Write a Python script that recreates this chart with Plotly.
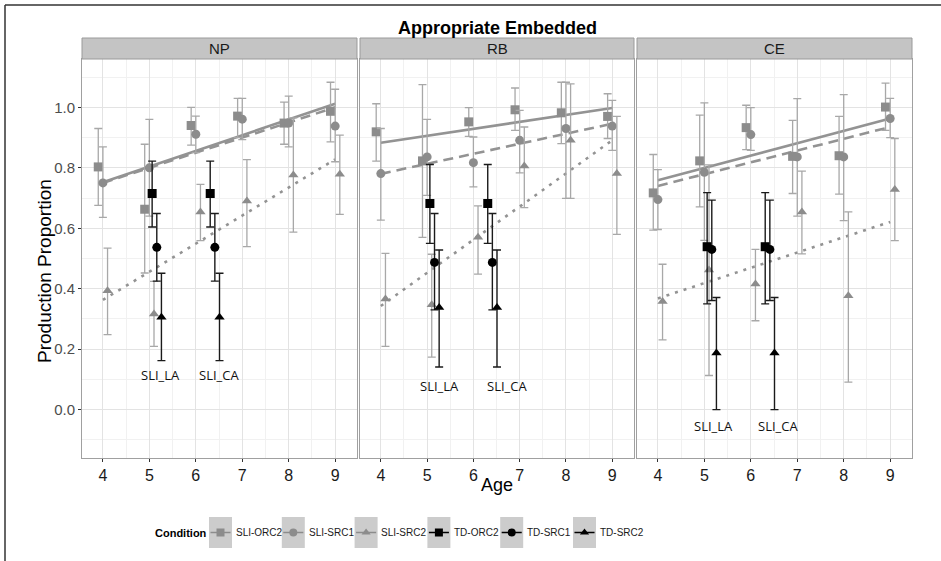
import plotly.graph_objects as go

# ---------------- data ----------------
ages = [4, 5, 6, 7, 8, 9]
td_ages = [5.16, 6.41]
fit_ages = [4, 9]
panels = ["NP", "RB", "CE"]
conditions = ["SLI-ORC2", "SLI-SRC1", "SLI-SRC2", "TD-ORC2", "TD-SRC1", "TD-SRC2"]
group_labels = ["SLI_LA", "SLI_CA"]

# NP panel
NP_SLI_ORC2 = [0.803, 0.663, 0.940, 0.971, 0.948, 0.987]
NP_SLI_ORC2_LO = [0.676, 0.452, 0.875, 0.900, 0.878, 0.886]
NP_SLI_ORC2_HI = [0.930, 0.878, 1.000, 1.030, 1.017, 1.083]
NP_SLI_SRC1 = [0.750, 0.800, 0.911, 0.961, 0.948, 0.938]
NP_SLI_SRC1_LO = [0.636, 0.640, 0.850, 0.893, 0.869, 0.820]
NP_SLI_SRC1_HI = [0.869, 0.960, 0.971, 1.030, 1.037, 1.060]
NP_SLI_SRC2 = [0.393, 0.316, 0.654, 0.690, 0.776, 0.779]
NP_SLI_SRC2_LO = [0.248, 0.209, 0.559, 0.539, 0.587, 0.646]
NP_SLI_SRC2_HI = [0.534, 0.424, 0.745, 0.827, 0.965, 0.908]
NP_TD_ORC2 = [0.715, 0.715]
NP_TD_ORC2_LO = [0.604, 0.604]
NP_TD_ORC2_HI = [0.822, 0.822]
NP_TD_SRC1 = [0.537, 0.537]
NP_TD_SRC1_LO = [0.425, 0.425]
NP_TD_SRC1_HI = [0.649, 0.649]
NP_TD_SRC2 = [0.306, 0.306]
NP_TD_SRC2_LO = [0.162, 0.162]
NP_TD_SRC2_HI = [0.451, 0.451]
NP_FIT_START = [0.752, 0.750, 0.363]
NP_FIT_END = [1.012, 1.000, 0.828]
NP_LABEL_X = [5.23, 6.50]
NP_LABEL_Y = [0.113, 0.113]

# RB panel
RB_SLI_ORC2 = [0.919, 0.823, 0.952, 0.992, 0.982, 0.970]
RB_SLI_ORC2_LO = [0.822, 0.570, 0.904, 0.924, 0.880, 0.897]
RB_SLI_ORC2_HI = [1.012, 1.075, 0.999, 1.064, 1.083, 1.045]
RB_SLI_SRC1 = [0.781, 0.836, 0.817, 0.891, 0.930, 0.938]
RB_SLI_SRC1_LO = [0.627, 0.709, 0.737, 0.783, 0.699, 0.858]
RB_SLI_SRC1_HI = [0.930, 0.960, 0.902, 0.990, 1.083, 1.023]
RB_SLI_SRC2 = [0.366, 0.347, 0.570, 0.806, 0.891, 0.781]
RB_SLI_SRC2_LO = [0.209, 0.174, 0.448, 0.668, 0.699, 0.580]
RB_SLI_SRC2_HI = [0.517, 0.514, 0.674, 0.935, 1.078, 0.970]
RB_TD_ORC2 = [0.682, 0.682]
RB_TD_ORC2_LO = [0.550, 0.550]
RB_TD_ORC2_HI = [0.811, 0.811]
RB_TD_SRC1 = [0.487, 0.487]
RB_TD_SRC1_LO = [0.330, 0.330]
RB_TD_SRC1_HI = [0.649, 0.649]
RB_TD_SRC2 = [0.338, 0.338]
RB_TD_SRC2_LO = [0.141, 0.141]
RB_TD_SRC2_HI = [0.528, 0.528]
RB_FIT_START = [0.883, 0.780, 0.343]
RB_FIT_END = [0.998, 0.946, 0.891]
RB_LABEL_X = [5.27, 6.72]
RB_LABEL_Y = [0.077, 0.077]

# CE panel
CE_SLI_ORC2 = [0.717, 0.823, 0.933, 0.838, 0.840, 1.001]
CE_SLI_ORC2_LO = [0.594, 0.671, 0.860, 0.715, 0.713, 0.924]
CE_SLI_ORC2_HI = [0.844, 0.974, 1.007, 0.957, 0.970, 1.080]
CE_SLI_SRC1 = [0.695, 0.785, 0.910, 0.836, 0.836, 0.963]
CE_SLI_SRC1_LO = [0.596, 0.560, 0.858, 0.640, 0.625, 0.900]
CE_SLI_SRC1_HI = [0.794, 1.015, 0.999, 1.029, 1.042, 1.030]
CE_SLI_SRC2 = [0.358, 0.462, 0.416, 0.654, 0.377, 0.728]
CE_SLI_SRC2_LO = [0.231, 0.113, 0.294, 0.515, 0.091, 0.559]
CE_SLI_SRC2_HI = [0.481, 0.810, 0.530, 0.789, 0.654, 0.897]
CE_TD_ORC2 = [0.539, 0.539]
CE_TD_ORC2_LO = [0.350, 0.350]
CE_TD_ORC2_HI = [0.718, 0.718]
CE_TD_SRC1 = [0.530, 0.530]
CE_TD_SRC1_LO = [0.361, 0.361]
CE_TD_SRC1_HI = [0.693, 0.693]
CE_TD_SRC2 = [0.187, 0.187]
CE_TD_SRC2_LO = [0.000, 0.000]
CE_TD_SRC2_HI = [0.371, 0.371]
CE_FIT_START = [0.759, 0.740, 0.368]
CE_FIT_END = [0.963, 0.935, 0.621]
CE_LABEL_X = [5.20, 6.58]
CE_LABEL_Y = [-0.055, -0.055]

y_ticks = [0.0, 0.2, 0.4, 0.6, 0.8, 1.0]

# ---------------- assembly ----------------
panel_data = {
    "NP": dict(
        sli=[(NP_SLI_ORC2, NP_SLI_ORC2_LO, NP_SLI_ORC2_HI),
             (NP_SLI_SRC1, NP_SLI_SRC1_LO, NP_SLI_SRC1_HI),
             (NP_SLI_SRC2, NP_SLI_SRC2_LO, NP_SLI_SRC2_HI)],
        td=[(NP_TD_ORC2, NP_TD_ORC2_LO, NP_TD_ORC2_HI),
            (NP_TD_SRC1, NP_TD_SRC1_LO, NP_TD_SRC1_HI),
            (NP_TD_SRC2, NP_TD_SRC2_LO, NP_TD_SRC2_HI)],
        fit=(NP_FIT_START, NP_FIT_END), lab=(NP_LABEL_X, NP_LABEL_Y)),
    "RB": dict(
        sli=[(RB_SLI_ORC2, RB_SLI_ORC2_LO, RB_SLI_ORC2_HI),
             (RB_SLI_SRC1, RB_SLI_SRC1_LO, RB_SLI_SRC1_HI),
             (RB_SLI_SRC2, RB_SLI_SRC2_LO, RB_SLI_SRC2_HI)],
        td=[(RB_TD_ORC2, RB_TD_ORC2_LO, RB_TD_ORC2_HI),
            (RB_TD_SRC1, RB_TD_SRC1_LO, RB_TD_SRC1_HI),
            (RB_TD_SRC2, RB_TD_SRC2_LO, RB_TD_SRC2_HI)],
        fit=(RB_FIT_START, RB_FIT_END), lab=(RB_LABEL_X, RB_LABEL_Y)),
    "CE": dict(
        sli=[(CE_SLI_ORC2, CE_SLI_ORC2_LO, CE_SLI_ORC2_HI),
             (CE_SLI_SRC1, CE_SLI_SRC1_LO, CE_SLI_SRC1_HI),
             (CE_SLI_SRC2, CE_SLI_SRC2_LO, CE_SLI_SRC2_HI)],
        td=[(CE_TD_ORC2, CE_TD_ORC2_LO, CE_TD_ORC2_HI),
            (CE_TD_SRC1, CE_TD_SRC1_LO, CE_TD_SRC1_HI),
            (CE_TD_SRC2, CE_TD_SRC2_LO, CE_TD_SRC2_HI)],
        fit=(CE_FIT_START, CE_FIT_END), lab=(CE_LABEL_X, CE_LABEL_Y)),
}

# ---------------- style ----------------
W, H = 941, 561
symbols = ["square", "circle", "triangle-up"]
dodge = [-0.1, 0.0, 0.1]
fit_dash = ["solid", "10px,6px", "3px,6px"]
SLI_COL = "#8c8c8c"
SLI_ERR = "#a8a8a8"
TD_COL = "#000000"
FIT_COL = "#939393"
FONT = "Liberation Sans, Arial, sans-serif"

px_x = [(82, 357), (360, 634), (637, 912)]
plot_top, plot_bot = 59, 458
strip_top = 38
y_dom = [(H - plot_bot) / H, (H - plot_top) / H]


def px(xp):
    return xp / W


def py(yp):
    return (H - yp) / H


fig = go.Figure()

for pi, pname in enumerate(panels):
    d = panel_data[pname]
    xa = "x" if pi == 0 else f"x{pi+1}"
    ya = "y" if pi == 0 else f"y{pi+1}"
    # regression lines
    for ci in range(3):
        fig.add_trace(go.Scatter(
            x=fit_ages, y=[d["fit"][0][ci], d["fit"][1][ci]], mode="lines",
            line=dict(color=FIT_COL, width=2.6, dash=fit_dash[ci]),
            xaxis=xa, yaxis=ya, showlegend=False, hoverinfo="skip"))
    # SLI points
    for ci, (m, lo, hi) in enumerate(d["sli"]):
        fig.add_trace(go.Scatter(
            x=[a + dodge[ci] for a in ages], y=m, mode="markers",
            marker=dict(symbol=symbols[ci], color=SLI_COL, size=9),
            error_y=dict(type="data", symmetric=False,
                         array=[h - v for h, v in zip(hi, m)],
                         arrayminus=[v - l for v, l in zip(m, lo)],
                         color=SLI_ERR, thickness=1.3, width=4),
            xaxis=xa, yaxis=ya, showlegend=False, name=conditions[ci]))
    # TD points
    for ci, (m, lo, hi) in enumerate(d["td"]):
        fig.add_trace(go.Scatter(
            x=[a + dodge[ci] for a in td_ages], y=m, mode="markers",
            marker=dict(symbol=symbols[ci], color=TD_COL, size=9),
            error_y=dict(type="data", symmetric=False,
                         array=[h - v for h, v in zip(hi, m)],
                         arrayminus=[v - l for v, l in zip(m, lo)],
                         color="#1a1a1a", thickness=1.4, width=4),
            xaxis=xa, yaxis=ya, showlegend=False, name=conditions[3 + ci]))
    # group labels
    for gi, g in enumerate(group_labels):
        fig.add_annotation(x=d["lab"][0][gi], y=d["lab"][1][gi], xref=xa, yref=ya,
                           text=g, showarrow=False, xanchor="center", yanchor="middle",
                           font=dict(family="Open Sans, sans-serif", size=13, color="#111"))

    # axes
    x0, x1 = px_x[pi]
    axkw = dict(domain=[px(x0), px(x1)], range=[3.55, 9.47], tickvals=ages,
                showgrid=True, gridcolor="#e3e3e3", gridwidth=1,
                minor=dict(dtick=0.5, tick0=3.5, showgrid=True, gridcolor="#f1f1f1", gridwidth=1),
                showline=True, linecolor="#a0a0a0", linewidth=1, mirror=True,
                ticks="outside", ticklen=3, tickcolor="#333",
                tickfont=dict(family=FONT, size=16, color="#1a1a1a"), zeroline=False,
                anchor=ya)
    yakw = dict(domain=y_dom, range=[-0.16, 1.16], tickvals=y_ticks,
                ticktext=[f"{v:.1f}" for v in y_ticks],
                showgrid=True, gridcolor="#e3e3e3", gridwidth=1,
                minor=dict(tickvals=[-0.1, 0.1, 0.3, 0.5, 0.7, 0.9, 1.1], showgrid=True,
                           gridcolor="#f1f1f1", gridwidth=1),
                showline=True, linecolor="#a0a0a0", linewidth=1, mirror=True,
                zeroline=False, anchor=xa,
                ticks="outside" if pi == 0 else "", ticklen=3, tickcolor="#333",
                showticklabels=(pi == 0),
                tickfont=dict(family=FONT, size=15, color="#4d4d4d"))
    if pi > 0:
        yakw["matches"] = "y"
    fig.layout["xaxis" if pi == 0 else f"xaxis{pi+1}"] = axkw
    fig.layout["yaxis" if pi == 0 else f"yaxis{pi+1}"] = yakw

    # strip
    fig.add_shape(type="rect", xref="paper", yref="paper",
                  x0=px(x0), x1=px(x1), y0=py(plot_top), y1=py(strip_top),
                  fillcolor="#c4c4c4", line=dict(color="#9a9a9a", width=1))
    fig.add_annotation(x=px((x0 + x1) / 2), y=py((plot_top + strip_top) / 2),
                       xref="paper", yref="paper", text=pname, showarrow=False,
                       xanchor="center", yanchor="middle",
                       font=dict(family=FONT, size=15, color="#1a1a1a"))

# ---------------- legend (drawn on its own hidden axis) ----------------
leg_left, leg_step = 209, 72.8
key_w = 23 / leg_step
fig.layout["xaxis4"] = dict(domain=[px(leg_left), px(leg_left + 6 * leg_step)], range=[0, 6],
                            visible=False, fixedrange=True, anchor="y4")
fig.layout["yaxis4"] = dict(domain=[py(548), py(517)], range=[0, 1],
                            visible=False, fixedrange=True, anchor="x4")
for ci, cname in enumerate(conditions):
    col = SLI_COL if ci < 3 else TD_COL
    fig.add_shape(type="rect", xref="x4", yref="y4", x0=ci, x1=ci + key_w, y0=0, y1=1,
                  fillcolor="#cccccc", line=dict(width=0), layer="below")
    fig.add_trace(go.Scatter(
        x=[ci + 0.02, ci + key_w - 0.02], y=[0.5, 0.5], mode="lines",
        line=dict(color=col, width=1.6), xaxis="x4", yaxis="y4",
        showlegend=False, hoverinfo="skip"))
    fig.add_trace(go.Scatter(
        x=[ci + key_w / 2], y=[0.5], mode="markers",
        marker=dict(symbol=symbols[ci % 3], color=col, size=8),
        xaxis="x4", yaxis="y4", showlegend=False, hoverinfo="skip", name=cname))
    fig.add_annotation(x=ci + key_w + 0.025, y=0.5, xref="x4", yref="y4", text=cname,
                       showarrow=False, xanchor="left", yanchor="middle",
                       font=dict(family=FONT, size=10, color="#1a1a1a"))

# titles
fig.add_annotation(x=px(497), y=py(28), xref="paper", yref="paper",
                   text="<b>Appropriate Embedded</b>", showarrow=False,
                   xanchor="center", yanchor="middle",
                   font=dict(family=FONT, size=18, color="#000"))
fig.add_annotation(x=px(497), y=py(485), xref="paper", yref="paper",
                   text="Age", showarrow=False, xanchor="center", yanchor="middle",
                   font=dict(family=FONT, size=18, color="#000"))
fig.add_annotation(x=px(44), y=py(271), xref="paper", yref="paper",
                   text="Production Proportion", showarrow=False, textangle=-90,
                   xanchor="center", yanchor="middle",
                   font=dict(family=FONT, size=19, color="#000"))
fig.add_annotation(x=px(181), y=py(533), xref="paper", yref="paper",
                   text="<b>Condition</b>", showarrow=False, xanchor="center", yanchor="middle",
                   font=dict(family=FONT, size=11, color="#000"))

# outer frame (top and left edges)
fig.add_shape(type="line", xref="paper", yref="paper", x0=px(5), x1=1, y0=py(5), y1=py(5),
              line=dict(color="#333", width=1.5))
fig.add_shape(type="line", xref="paper", yref="paper", x0=px(5), x1=px(5), y0=0, y1=py(5),
              line=dict(color="#333", width=1.5))

fig.update_layout(
    width=W, height=H, margin=dict(l=0, r=0, t=0, b=0),
    paper_bgcolor="white", plot_bgcolor="white",
    font=dict(family=FONT), showlegend=False,
)

fig.write_html("out.html")
